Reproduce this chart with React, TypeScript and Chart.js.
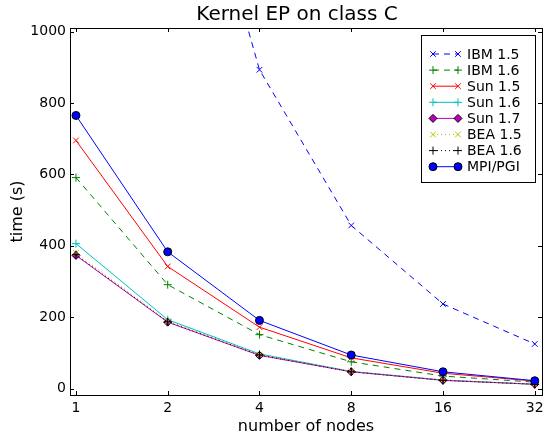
import React, { useEffect, useRef } from "react";
import { Chart, registerables } from "chart.js";
import { drawPoint } from "chart.js/helpers";

Chart.register(...registerables);

// ---- data ----
const nodes = [1, 2, 4, 8, 16, 32];
const yTickValues = [0, 200, 400, 600, 800, 1000];

const ibm15 = [3600, 1800, 893, 457, 237, 125];
const ibm16 = [591, 291, 151, 75, 35, 18];
const sun15 = [695, 342, 172, 86, 43, 21];
const sun16 = [406, 193, 97, 48, 24, 12];
const sun17 = [373, 186, 93, 47, 23, 12];
const bea15 = [380, 189, 95, 48, 24, 12];
const bea16 = [375, 187, 94, 47, 23, 12];
const mpiPgi = [765, 383, 191, 94, 47, 22];

const seriesLabels = ["IBM 1.5", "IBM 1.6", "Sun 1.5", "Sun 1.6", "Sun 1.7", "BEA 1.5", "BEA 1.6", "MPI/PGI"];

const titleText = "Kernel EP on class C";
const xTitle = "number of nodes";
const yTitle = "time (s)";

const FONT = "'DejaVu Sans', 'Bitstream Vera Sans', sans-serif";

type Style = {
  color: string;
  dash: number[];
  pointStyle: string;
  fill: string;
  edge: string;
  radius: number;
};

const styles: Style[] = [
  { color: "#0000ff", dash: [6, 5], pointStyle: "crossRot", fill: "#0000ff", edge: "#0000ff", radius: 4 },
  { color: "#008000", dash: [6, 5], pointStyle: "cross", fill: "#008000", edge: "#008000", radius: 4 },
  { color: "#ff0000", dash: [], pointStyle: "crossRot", fill: "#ff0000", edge: "#ff0000", radius: 4 },
  { color: "#00bfbf", dash: [], pointStyle: "cross", fill: "#00bfbf", edge: "#00bfbf", radius: 4 },
  { color: "#bf00bf", dash: [], pointStyle: "rectRot", fill: "#bf00bf", edge: "#000000", radius: 4 },
  { color: "#bfbf00", dash: [1, 3], pointStyle: "crossRot", fill: "#bfbf00", edge: "#bfbf00", radius: 4 },
  { color: "#000000", dash: [1, 3], pointStyle: "cross", fill: "#000000", edge: "#000000", radius: 4 },
  { color: "#0000ff", dash: [], pointStyle: "circle", fill: "#0000ff", edge: "#000000", radius: 4 },
];

const seriesValues = [ibm15, ibm16, sun15, sun16, sun17, bea15, bea16, mpiPgi];

const framePlugin = {
  id: "mplFrame",
  afterDatasetsDraw(chart: any) {
    const { ctx, chartArea } = chart;
    const { left, right, top, bottom } = chartArea;
    const xs = chart.scales.x;
    const ys = chart.scales.y;
    ctx.save();
    ctx.strokeStyle = "#000";
    ctx.lineWidth = 1;
    ctx.setLineDash([]);
    // inward ticks
    ctx.beginPath();
    nodes.forEach((n) => {
      const px = Math.round(xs.getPixelForValue(n)) + 0.5;
      ctx.moveTo(px, bottom);
      ctx.lineTo(px, bottom - 4);
      ctx.moveTo(px, top);
      ctx.lineTo(px, top + 4);
    });
    yTickValues.forEach((v) => {
      const py = Math.round(ys.getPixelForValue(v)) + 0.5;
      ctx.moveTo(left, py);
      ctx.lineTo(left + 4, py);
      ctx.moveTo(right, py);
      ctx.lineTo(right - 4, py);
    });
    ctx.stroke();
    // frame
    ctx.strokeRect(left + 0.5, top + 0.5, right - left, bottom - top);
    ctx.restore();
  },
  afterDraw(chart: any) {
    const { ctx, chartArea } = chart;
    ctx.save();
    ctx.fillStyle = "#000";
    // title
    ctx.font = `20px ${FONT}`;
    ctx.textAlign = "center";
    ctx.textBaseline = "alphabetic";
    ctx.fillText(titleText, 297, 20);
    // x title
    ctx.font = `16px ${FONT}`;
    ctx.fillText(xTitle, (chartArea.left + chartArea.right) / 2, 431);
    // y title
    ctx.save();
    ctx.translate(18, (chartArea.top + chartArea.bottom) / 2);
    ctx.rotate(-Math.PI / 2);
    ctx.textBaseline = "middle";
    ctx.fillText(yTitle, 0, 0);
    ctx.restore();

    // legend
    const bx = 421.5, by = 35.5, bw = 114, bh = 147;
    ctx.fillStyle = "#fff";
    ctx.fillRect(bx, by, bw, bh);
    ctx.strokeStyle = "#000";
    ctx.lineWidth = 1;
    ctx.strokeRect(bx, by, bw, bh);
    const x0 = 433, x1 = 458;
    seriesLabels.forEach((label, i) => {
      const s = styles[i];
      const y = 54 + i * 16.1;
      ctx.save();
      ctx.strokeStyle = s.color;
      ctx.lineWidth = 1;
      ctx.setLineDash(s.dash);
      ctx.beginPath();
      ctx.moveTo(x0, y);
      ctx.lineTo(x1, y);
      ctx.stroke();
      ctx.setLineDash([]);
      ctx.strokeStyle = s.edge;
      ctx.fillStyle = s.fill;
      const opts = { pointStyle: s.pointStyle, radius: s.radius, rotation: 0, borderWidth: 1 };
      drawPoint(ctx, opts as any, x0, y);
      drawPoint(ctx, opts as any, x1, y);
      ctx.restore();
      ctx.fillStyle = "#000";
      ctx.font = `14px ${FONT}`;
      ctx.textAlign = "left";
      ctx.textBaseline = "middle";
      ctx.fillText(label, 467, y + 1);
    });
    ctx.restore();
  },
};

export default function App() {
  const ref = useRef<HTMLCanvasElement>(null);
  useEffect(() => {
    if (!ref.current) return;
    const datasets = seriesLabels.map((label, i) => {
      const s = styles[i];
      return {
        label,
        data: nodes.map((n, j) => ({ x: n, y: seriesValues[i][j] })),
        borderColor: s.color,
        backgroundColor: s.fill,
        borderWidth: 1,
        borderDash: s.dash,
        pointStyle: s.pointStyle,
        pointRadius: s.radius,
        pointBorderColor: s.edge,
        pointBackgroundColor: s.fill,
        pointBorderWidth: 1,
        fill: false,
        tension: 0,
        order: -i,
      };
    });
    const chart = new Chart(ref.current, {
      type: "line",
      data: { datasets } as any,
      options: {
        responsive: false,
        animation: false,
        devicePixelRatio: 1,
        layout: { padding: { top: 28, right: 3, left: 0, bottom: 0 } },
        plugins: { legend: { display: false }, tooltip: { enabled: false }, title: { display: false } },
        scales: {
          x: {
            type: "logarithmic",
            min: 0.956,
            max: 33.8,
            grid: { display: false, drawTicks: false },
            border: { display: false },
            ticks: {
              autoSkip: false,
              maxRotation: 0,
              padding: 5,
              color: "#000",
              font: { family: FONT, size: 14 },
              callback: (v: any) => String(v),
            },
            afterBuildTicks: (scale: any) => {
              scale.ticks = nodes.map((v) => ({ value: v }));
            },
            afterFit: (scale: any) => {
              scale.height = 44;
              scale.paddingLeft = 0;
              scale.paddingRight = 0;
            },
          },
          y: {
            type: "linear",
            min: -18,
            max: 1010,
            grid: { display: false, drawTicks: false },
            border: { display: false },
            ticks: {
              padding: 4,
              color: "#000",
              font: { family: FONT, size: 14 },
              callback: (v: any) => String(v),
            },
            afterBuildTicks: (scale: any) => {
              scale.ticks = yTickValues.map((v) => ({ value: v }));
            },
            afterFit: (scale: any) => {
              scale.width = 70;
              scale.paddingTop = 0;
              scale.paddingBottom = 0;
            },
          },
        },
      } as any,
      plugins: [framePlugin],
    });
    return () => chart.destroy();
  }, []);
  return (
    <div style={{ position: "fixed", left: 0, top: 0, width: 547, height: 439, background: "#fff" }}>
      <canvas ref={ref} width={547} height={439} />
    </div>
  );
}
